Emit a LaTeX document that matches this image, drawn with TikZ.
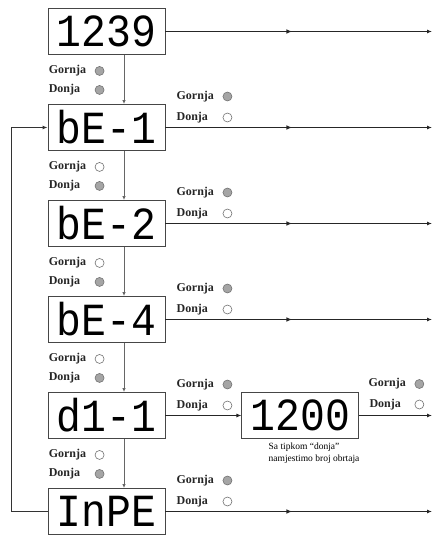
\documentclass[tikz,border=0pt]{standalone}
\usepackage{fontspec}
\setmainfont{Liberation Serif}
\newfontfamily\segfont[FakeStretch=0.9]{Liberation Mono}
\usetikzlibrary{positioning,calc}
\usetikzlibrary{arrows.meta,decorations.markings}
\definecolor{FrameGray}{RGB}{70,70,70}
\definecolor{LampGray}{RGB}{165,165,165}
\tikzset{
  disp/.style={draw=FrameGray,line width=0.9pt,fill=white,minimum width=117pt,minimum height=46pt,
    inner sep=0pt,font=\segfont\fontsize{46}{46}\selectfont},
  lamp/.style={circle,draw=black!55,line width=0.6pt,inner sep=0pt,minimum size=9pt},
  on/.style={lamp,fill=LampGray},
  off/.style={lamp,fill=white},
  lbl/.style={font=\fontsize{12}{12}\selectfont\bfseries,text=black!85,anchor=west,inner sep=0pt},
  note/.style={font=\fontsize{9.5}{11.5}\selectfont,align=left,inner sep=0pt,anchor=north west},
  wire/.style={draw=black!85,line width=1.4pt,-{Latex[length=5pt,width=4pt]}},
  midtip/.style={postaction={decorate},decoration={markings,
    mark=at position 127pt with {\arrow{Latex[length=6pt,width=4.5pt]}}}},
  feed/.style={draw=black!60,line width=0.8pt,-{Latex[length=4pt,width=3.5pt]}},
  back/.style={draw=black!80,line width=1.1pt,-{Latex[length=5pt,width=4pt]}},
}
\begin{document}
\begin{tikzpicture}[x=1pt,y=-1pt]
\useasboundingbox (0,0) rectangle (432,537);
\coordinate (tap) at (124,0); \coordinate (rim) at (432,0);
\foreach \i/\txt in {1/1239,2/bE-1,3/bE-2,4/bE-4,5/d1-1,6/InPE}
  \node[disp] (s\i) at (106.5,{31.5+96*(\i-1)}) {\txt};
\node[disp,right=76pt of s5] (v) {1200};
\node[note] (vn) at ($(v.south west)+(27,4)$) {Sa tipkom ``donja''\\namjestimo broj obrtaja};
\foreach \i/\up in {1/on,2/off,3/off,4/off,5/off} {
  \node[lbl] (g\i) at ($(s\i.south west)+(1,16)$) {Gornja};
  \node[\up] (gl\i) at ($(s\i.south west)+(52,16)$) {};
  \node[lbl] (d\i) at ($(s\i.south west)+(1,35)$) {Donja};
  \node[on] (dl\i) at ($(s\i.south west)+(52,35)$) {};
}
\foreach \i in {2,...,6} {
  \node[lbl] (rg\i) at ($(s\i.east)+(11,-31)$) {Gornja};
  \node[on] (rgl\i) at ($(s\i.east)+(62,-31)$) {};
  \node[lbl] (rd\i) at ($(s\i.east)+(11,-10)$) {Donja};
  \node[off] (rdl\i) at ($(s\i.east)+(62,-10)$) {};
}
\node[lbl] (vg) at ($(v.east)+(9,-31.5)$) {Gornja};
\node[on] (vgl) at ($(v.east)+(60,-31.5)$) {};
\node[lbl] (vd) at ($(v.east)+(10,-11)$) {Donja};
\node[off] (vdl) at ($(v.east)+(60,-11)$) {};
\foreach \i [evaluate=\i as \j using int(\i+1)] in {1,...,5}
  \draw[feed] (s\i.south -| tap) -- (s\j.north -| tap);
\foreach \i in {1,2,3,4,6}
  \draw[wire,midtip] (s\i.east) -- (s\i.east -| rim);
\draw[wire] (s5.east) -- (v.west);
\draw[wire] (v.east) -- (v.east -| rim);
\draw[back] (s6.west) -- ++(-36,0) |- (s2.west);
\end{tikzpicture}
\end{document}
